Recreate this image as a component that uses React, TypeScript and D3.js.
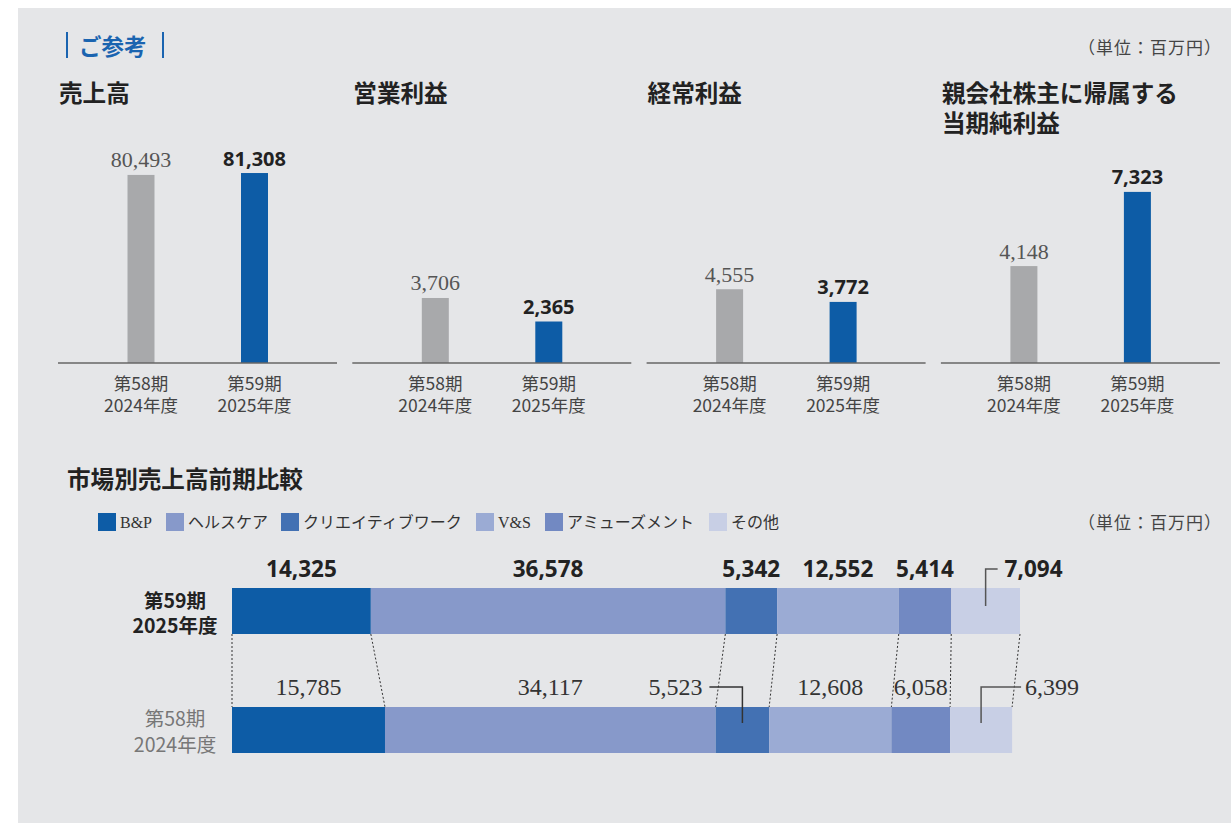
import React from "react";
import * as d3 from "d3";

// ---------- data ----------
const panelTitles: string[][] = [["売上高"], ["営業利益"], ["経常利益"], ["親会社株主に帰属する", "当期純利益"]];
const values2024: number[] = [80493, 3706, 4555, 4148];
const values2025: number[] = [81308, 2365, 3772, 7323];
const panelScaleMax: number[] = [85600, 11400, 12350, 8560];
const periodLabels: string[][] = [["第58期", "2024年度"], ["第59期", "2025年度"]];

const segments: string[] = ["B&P", "ヘルスケア", "クリエイティブワーク", "V&S", "アミューズメント", "その他"];
const segColors: string[] = ["#0d5ca6", "#8799ca", "#4371b3", "#9babd4", "#7289c2", "#c8cfe5"];
const seg2025: number[] = [14325, 36578, 5342, 12552, 5414, 7094];
const seg2024: number[] = [15785, 34117, 5523, 12608, 6058, 6399];

const unitLabel = "（単位：百万円）";

const SANS = "'Noto Sans', 'Noto Sans CJK JP', sans-serif";
const CJK = "'Noto Sans CJK JP', 'Noto Sans', sans-serif";
const SERIF = "'Liberation Serif', 'Noto Sans CJK JP', serif";
const fmt = d3.format(",");

export default function App() {
  const W = 1231, H = 823;
  // top panels
  const panelX0 = 58, panelW = 279, panelStep = 294.3;
  const baseY = 363, plotH = 200;
  const barW = 27;
  const barCenters = [83, 196.5];

  // bottom stacked bars
  const total2025 = d3.sum(seg2025);
  const xs = d3.scaleLinear().domain([0, total2025]).range([232, 1020]);
  const cum = (arr: number[]) => {
    const out: number[] = [0];
    arr.forEach((v) => out.push(out[out.length - 1] + v));
    return out;
  };
  const c25 = cum(seg2025);
  const c24 = cum(seg2024);
  const bar25Y = 588, bar24Y = 707, barH = 46;

  const legendX = [98, 166, 281, 476, 545, 709];

  return (
    <svg width={W} height={H} style={{ position: "absolute", left: 0, top: 0 }}>
      <rect x={18} y={8} width={W - 18} height={H - 8} fill="#e5e6e8" />
      {/* header */}
      <line x1={67} x2={67} y1={32} y2={58} stroke="#1a64b0" strokeWidth={2} />
      <line x1={163} x2={163} y1={32} y2={58} stroke="#1a64b0" strokeWidth={2} />
      <text x={79} y={45} fontFamily={CJK} fontWeight={700} fontSize={22.5} fill="#1a64b0" dominantBaseline="central">ご参考</text>
      <text x={1222} y={46} fontFamily={CJK} fontSize={17} letterSpacing={1} fill="#444" textAnchor="end" dominantBaseline="central">{unitLabel}</text>

      {panelTitles.map((lines, i) => {
        const px = panelX0 + i * panelStep;
        const y = d3.scaleLinear().domain([0, panelScaleMax[i]]).range([baseY, baseY - plotH]);
        const vals = [values2024[i], values2025[i]];
        return (
          <g key={i}>
            {lines.map((t, j) => (
              <text key={j} x={px + 1} y={92 + j * 29.5} fontFamily={CJK} fontWeight={700} fontSize={23.6} fill="#222" dominantBaseline="central">{t}</text>
            ))}
            {vals.map((v, k) => {
              const cx = px + barCenters[k];
              const top = y(v);
              return (
                <g key={k}>
                  <rect x={cx - barW / 2} y={top} width={barW} height={baseY - top} fill={k === 0 ? "#a8a9ab" : "#0d5ca6"} />
                  <text x={cx} y={top - 15} textAnchor="middle" dominantBaseline="central"
                    fontFamily={k === 0 ? SERIF : SANS} fontWeight={k === 0 ? 400 : 700}
                    fontSize={k === 0 ? 22 : 20} fill={k === 0 ? "#555" : "#222"}>{fmt(v)}</text>
                  {periodLabels[k].map((l, m) => (
                    <text key={m} x={cx} y={382 + m * 22.5} textAnchor="middle" dominantBaseline="central" fontFamily={CJK} fontSize={17.5} fill="#444">{l}</text>
                  ))}
                </g>
              );
            })}
            <line x1={px} x2={px + panelW} y1={baseY} y2={baseY} stroke="#666" strokeWidth={1.5} />
          </g>
        );
      })}

      {/* bottom section */}
      <text x={67} y={478} fontFamily={CJK} fontWeight={700} fontSize={23.6} fill="#222" dominantBaseline="central">市場別売上高前期比較</text>
      {segments.map((s, i) => (
        <g key={s}>
          <rect x={legendX[i]} y={513} width={18} height={18} fill={segColors[i]} />
          <text x={legendX[i] + 22} y={522} fontFamily={SERIF} fontSize={16} fill="#333" dominantBaseline="central">{s}</text>
        </g>
      ))}
      <text x={1222} y={521} fontFamily={CJK} fontSize={17} letterSpacing={1} fill="#444" textAnchor="end" dominantBaseline="central">{unitLabel}</text>

      {/* row labels */}
      <text x={175} y={599} textAnchor="middle" dominantBaseline="central" fontFamily={CJK} fontWeight={700} fontSize={19.5} fill="#222">{periodLabels[1][0]}</text>
      <text x={175} y={624} textAnchor="middle" dominantBaseline="central" fontFamily={CJK} fontWeight={700} fontSize={19.5} fill="#222">{periodLabels[1][1]}</text>
      <text x={175} y={717} textAnchor="middle" dominantBaseline="central" fontFamily={CJK} fontSize={19.5} fill="#777">{periodLabels[0][0]}</text>
      <text x={175} y={743} textAnchor="middle" dominantBaseline="central" fontFamily={CJK} fontSize={19.5} fill="#777">{periodLabels[0][1]}</text>

      {/* dashed connectors */}
      {c25.map((v, i) => (
        <line key={i} x1={xs(v)} y1={bar25Y + barH} x2={xs(c24[i])} y2={bar24Y} stroke="#333" strokeWidth={1} strokeDasharray="2,2" />
      ))}

      {/* stacked bars */}
      {seg2025.map((v, i) => (
        <rect key={"a" + i} x={xs(c25[i])} y={bar25Y} width={xs(c25[i + 1]) - xs(c25[i])} height={barH} fill={segColors[i]} />
      ))}
      {seg2024.map((v, i) => (
        <rect key={"b" + i} x={xs(c24[i])} y={bar24Y} width={xs(c24[i + 1]) - xs(c24[i])} height={barH} fill={segColors[i]} />
      ))}

      {/* 2025 labels */}
      {seg2025.map((v, i) => {
        const cx = (xs(c25[i]) + xs(c25[i + 1])) / 2;
        if (i === 5) {
          return (
            <g key={"l25" + i}>
              <path d={`M${cx},606V569H${cx + 12}`} fill="none" stroke="#555" strokeWidth={1.5} />
              <text x={cx + 19} y={568.5} dominantBaseline="central" fontFamily={SANS} fontWeight={700} fontSize={22.5} fill="#222">{fmt(v)}</text>
            </g>
          );
        }
        return (
          <text key={"l25" + i} x={cx} y={568.5} textAnchor="middle" dominantBaseline="central" fontFamily={SANS} fontWeight={700} fontSize={22.5} fill="#222">{fmt(v)}</text>
        );
      })}

      {/* 2024 labels */}
      {seg2024.map((v, i) => {
        const cx = (xs(c24[i]) + xs(c24[i + 1])) / 2;
        if (i === 2) {
          return (
            <g key={"l24" + i}>
              <path d={`M${cx},723V687H${cx - 33}`} fill="none" stroke="#333" strokeWidth={1.5} />
              <text x={cx - 40} y={686.5} textAnchor="end" dominantBaseline="central" fontFamily={SERIF} fontSize={24} fill="#333">{fmt(v)}</text>
            </g>
          );
        }
        if (i === 5) {
          return (
            <g key={"l24" + i}>
              <path d={`M${cx},723V687H${cx + 40}`} fill="none" stroke="#555" strokeWidth={1.5} />
              <text x={cx + 44} y={686.5} dominantBaseline="central" fontFamily={SERIF} fontSize={24} fill="#333">{fmt(v)}</text>
            </g>
          );
        }
        return (
          <text key={"l24" + i} x={cx} y={686.5} textAnchor="middle" dominantBaseline="central" fontFamily={SERIF} fontSize={24} fill="#333">{fmt(v)}</text>
        );
      })}
    </svg>
  );
}
